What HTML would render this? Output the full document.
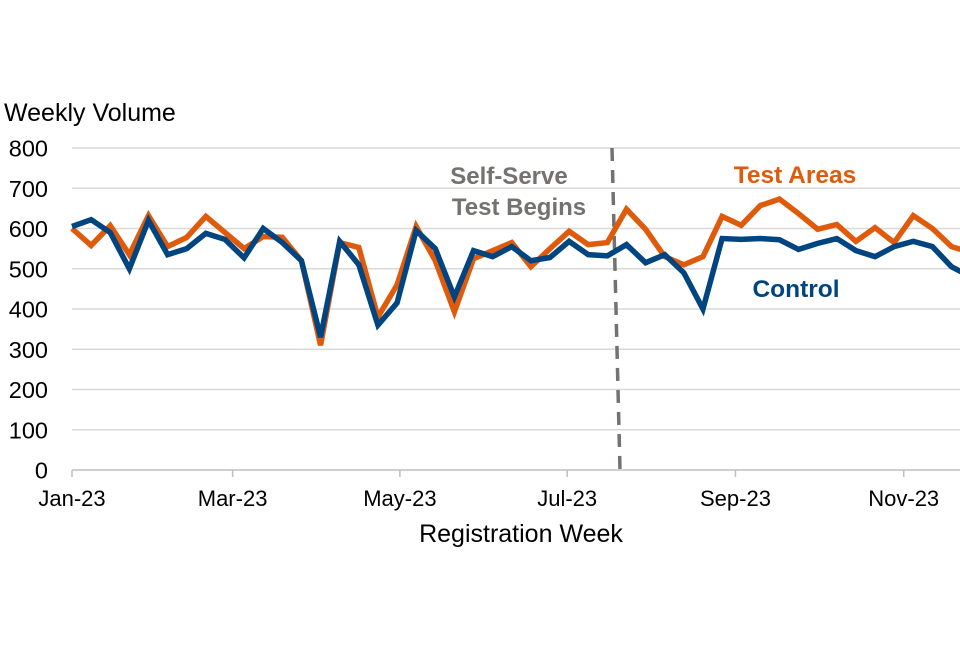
<!DOCTYPE html>
<html><head><meta charset="utf-8"><style>
body{margin:0;background:#fff;}
svg text{font-family:"Liberation Sans",Arial,sans-serif;}
</style></head><body>
<svg id="chart" width="960" height="640" viewBox="0 0 960 640">
<defs><clipPath id="clip"><rect x="0" y="0" width="960" height="640"/></clipPath></defs>
<g id="grid"></g>
<g id="yticks"></g>
<g id="xticks"></g>
<text x="4" y="121" font-size="25" fill="#000">Weekly Volume</text>
<text x="521" y="542" font-size="25" fill="#000" text-anchor="middle">Registration Week</text>
<line x1="612" y1="148" x2="620" y2="470" stroke="#767171" stroke-width="3.5" stroke-dasharray="13,9"/>
<text x="509" y="184" font-size="24" font-weight="bold" fill="#767171" text-anchor="middle">Self-Serve</text>
<text x="519" y="215" font-size="24" font-weight="bold" fill="#767171" text-anchor="middle">Test Begins</text>
<g id="series" clip-path="url(#clip)"></g>
<text x="795" y="183" font-size="24.5" font-weight="bold" fill="#E05A0C" text-anchor="middle">Test Areas</text>
<text x="796" y="297" font-size="24.5" font-weight="bold" fill="#004580" text-anchor="middle">Control</text>
</svg>
<script>
const testAreas=[600,558,607,535,632,555,578,630,590,550,580,578,520,310,565,553,380,460,605,520,393,525,545,565,505,550,593,560,565,648,598,530,510,530,630,608,657,673,637,598,610,568,602,565,632,600,555,540];
const control=[605,622,590,500,620,535,550,588,573,527,600,565,520,330,568,510,360,415,595,550,430,545,530,555,520,528,568,535,532,560,515,535,490,400,575,573,575,572,548,563,575,545,530,555,568,555,505,480];
const yTicks=[0,100,200,300,400,500,600,700,800];
const xLabels=["Jan-23","Mar-23","May-23","Jul-23","Sep-23","Nov-23"];
const xLabelWeeks=[0,8.4,17.15,25.9,34.7,43.5];
const NS="http://www.w3.org/2000/svg";
function y(v){return 470-v*0.4025;}
function x(i){return 72+i*19.12;}
const grid=document.getElementById('grid'),yt=document.getElementById('yticks'),xt=document.getElementById('xticks');
yTicks.forEach(v=>{
 const l=document.createElementNS(NS,'line');
 l.setAttribute('x1',72);l.setAttribute('x2',960);l.setAttribute('y1',y(v));l.setAttribute('y2',y(v));
 l.setAttribute('stroke',v===0?'#bfbfbf':'#d9d9d9');l.setAttribute('stroke-width',1.5);
 
 
 grid.appendChild(l);
 const t=document.createElementNS(NS,'text');
 t.setAttribute('x',48);t.setAttribute('y',y(v)+8.5);t.setAttribute('font-size',23.5);t.setAttribute('text-anchor','end');
 t.textContent=v;
 
 
 yt.appendChild(t);
});
xLabels.forEach((lab,k)=>{
 const px=x(xLabelWeeks[k]);
 const l=document.createElementNS(NS,'line');
 l.setAttribute('x1',px);l.setAttribute('x2',px);l.setAttribute('y1',470);l.setAttribute('y2',477);
 l.setAttribute('stroke','#bfbfbf');l.setAttribute('stroke-width',1.5);
 
 
 xt.appendChild(l);
 const t=document.createElementNS(NS,'text');
 t.setAttribute('x',px);t.setAttribute('y',506);t.setAttribute('font-size',22);t.setAttribute('text-anchor','middle');
 t.textContent=lab;
 
 
 xt.appendChild(t);
});
const ser=document.getElementById('series');
function line(vals,color,name){
 const p=document.createElementNS(NS,'polyline');
 p.setAttribute('points',vals.map((v,i)=>x(i)+','+y(v)).join(' '));
 p.setAttribute('fill','none');p.setAttribute('stroke',color);p.setAttribute('stroke-width',5.5);
 p.setAttribute('stroke-linejoin','miter');
 
 
 ser.appendChild(p);
}
line(testAreas,'#E05A0C','test-areas-line');
line(control,'#004580','control-line');
</script>
</body></html>
